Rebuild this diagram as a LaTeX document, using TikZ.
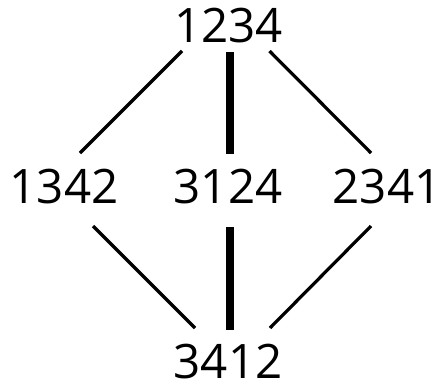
\documentclass[tikz,border=0pt]{standalone}
\usepackage{fontspec}
\setmainfont{Open Sans}
\begin{document}
\begin{tikzpicture}[x=1pt,y=-1pt,
  lbl/.style={inner sep=0pt,font=\fontsize{47.5}{47.5}\selectfont},
  thin/.style={line width=3.2pt},
  heavy/.style={line width=7.3pt}]
\useasboundingbox (0,0) rectangle (442,388);
\node[lbl] (t) at (228.5,25.5) {1234};
\node[lbl] (l) at (64,187) {1342};
\node[lbl] (m) at (228,187) {3124};
\node[lbl] (r) at (387,187) {2341};
\node[lbl] (b) at (228,362) {3412};
\draw[thin] ([shift={(-46.5,25.5)}]t.center) -- ([shift={(16,-34)}]l.center);
\draw[heavy] ([shift={(1.5,26.5)}]t.center) -- ([shift={(2,-33)}]m.center);
\draw[thin] ([shift={(41,25.5)}]t.center) -- ([shift={(-16,-34)}]r.center);
\draw[thin] ([shift={(29,39)}]l.center) -- ([shift={(-33,-34)}]b.center);
\draw[heavy] ([shift={(2,40)}]m.center) -- ([shift={(2,-32)}]b.center);
\draw[thin] ([shift={(-16,39)}]r.center) -- ([shift={(42,-34)}]b.center);
\end{tikzpicture}
\end{document}
